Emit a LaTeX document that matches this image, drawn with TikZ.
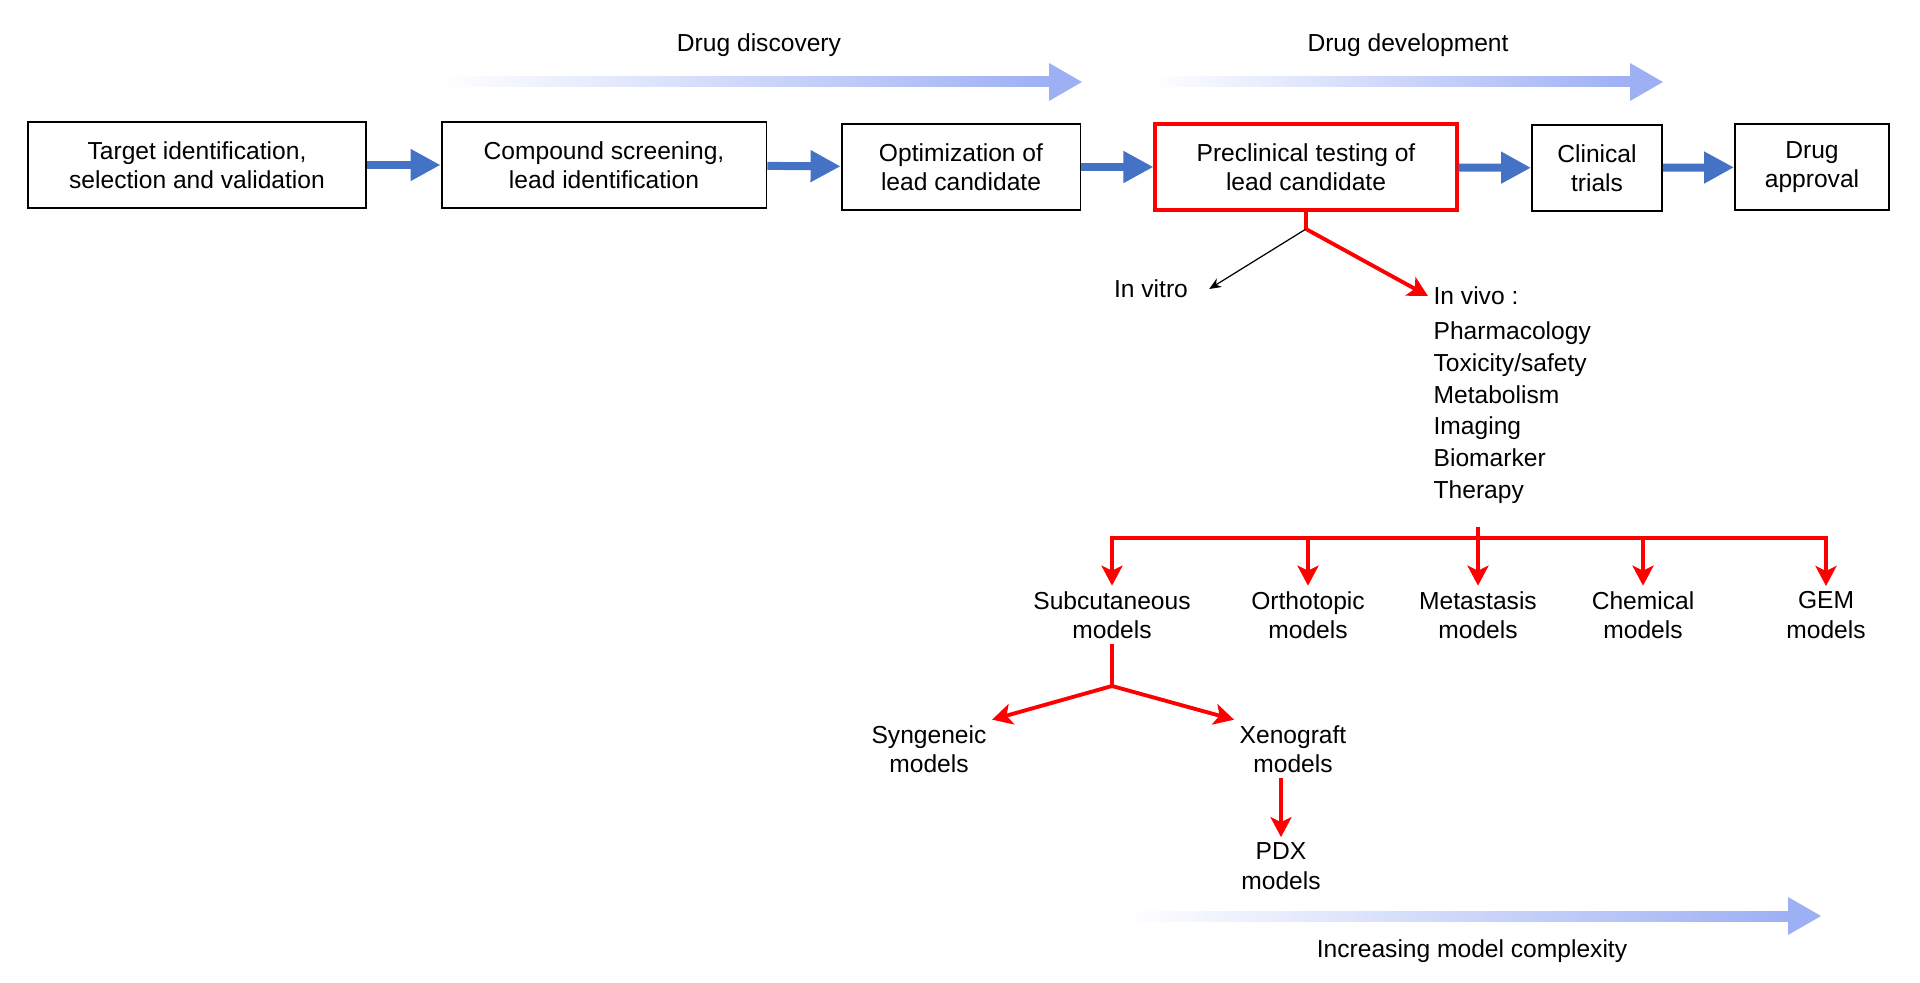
\documentclass[tikz,border=0pt]{standalone}
\usepackage{fontspec}
\setmainfont{Liberation Sans}
\usetikzlibrary{arrows.meta}
\definecolor{flowblue}{HTML}{4472C4}
\definecolor{fadeblue}{RGB}{158,176,244}
% faded wide arrow: #1 start x, #2 tip x, #3 y
\newcommand{\fadearrow}[3]{%
  \shade[left color=white,middle color=fadeblue!72,right color=fadeblue] (#1,#3-5) rectangle (#2-33,#3+5);
  \fill[fadeblue] (#2-33,#3-19) -- (#2,#3) -- (#2-33,#3+19) -- cycle;}
\begin{document}
\begin{tikzpicture}[x=0.02cm,y=-0.02cm,font=\fontsize{14pt}{16.7pt}\selectfont,
  box/.style={draw,line width=1.1pt,minimum height=1.72cm,align=center,inner sep=2pt},
  hotbox/.style={box,draw=red,line width=1.8pt},
  lbl/.style={align=center,inner sep=3pt},
  flow/.style={flowblue,line width=0.16cm,-{Triangle[length=0.6cm,width=0.6cm]}},
  redline/.style={red,line width=2.2pt},
  redarrow/.style={redline,-{Stealth[length=0.4cm,width=0.42cm,inset=0.1cm]}}]
\useasboundingbox (0,0) rectangle (1920,983);
\fadearrow{441}{1082}{82}
\fadearrow{1151}{1663}{82}
\fadearrow{1124}{1821}{916}
\node[lbl] (disc) at (759,45) {Drug discovery};
\node[lbl] (devel) at (1408,45) {Drug development};
\node[lbl] (cplx) at (1472,951) {Increasing model complexity};
\node[box,minimum width=6.76cm] (target) at (197,165) {Target identification,\\selection and validation};
\node[box,minimum width=6.5cm] (screen) at (604,165) {Compound screening,\\lead identification};
\node[box,minimum width=4.78cm] (optim) at (961,167) {Optimization of\\lead candidate};
\node[hotbox,minimum width=6.04cm] (pre) at (1306,167) {Preclinical testing of\\lead candidate};
\node[box,minimum width=2.6cm] (clin) at (1597,168) {Clinical\\trials};
\node[box,minimum width=3.08cm] (appr) at (1812,167) {Drug\\approval};
\draw[flow] (target) -- (screen);
\draw[flow] (screen) -- (optim);
\draw[flow] (optim) -- (pre);
\draw[flow] (pre) -- (clin);
\draw[flow] (clin) -- (appr);
\node[lbl,outer xsep=0.32cm] (vitro) at (1151,289) {In vitro};
\node[lbl,anchor=west] (vivo) at (1428,296) {In vivo :};
\node[anchor=north west,align=left,inner sep=3pt,font=\fontsize{14pt}{18.1pt}\selectfont] (tests) at (1428,316)
  {Pharmacology\\Toxicity/safety\\Metabolism\\Imaging\\Biomarker\\Therapy};
\coordinate (fork) at (1306,229);
\draw[redline] (pre) -- (fork);
\draw[line width=0.7pt,-{Stealth[length=0.24cm,width=0.2cm]}] (fork) -- (vitro.east);
\draw[redarrow] (fork) -- (vivo.west);
\node[lbl] (sub) at (1112,615) {Subcutaneous\\models};
\node[lbl] (ortho) at (1308,615) {Orthotopic\\models};
\node[lbl] (meta) at (1478,615) {Metastasis\\models};
\node[lbl] (chem) at (1643,615) {Chemical\\models};
\node[lbl] (gem) at (1826,615) {GEM\\models};
\coordinate (busup) at (1478,527);
\coordinate (bus) at (1478,538);
\draw[redline] (busup) -- (bus);
\draw[redline,line cap=rect] (sub |- bus) -- (gem |- bus);
\foreach \m in {sub,ortho,meta,chem,gem}
  \draw[redarrow] (\m |- bus) -- (\m);
\node[lbl] (syn) at (929,749) {Syngeneic\\models};
\node[lbl] (xen) at (1293,749) {Xenograft\\models};
\node[lbl] (pdx) at (1281,866) {PDX\\models};
\coordinate (fork2) at (1112,686);
\draw[redline] (sub) -- (fork2);
\draw[redarrow] (fork2) -- (syn.north east);
\draw[redarrow] (fork2) -- (xen.north west);
\draw[redarrow] (pdx |- xen.south) -- (pdx);
\end{tikzpicture}
\end{document}
